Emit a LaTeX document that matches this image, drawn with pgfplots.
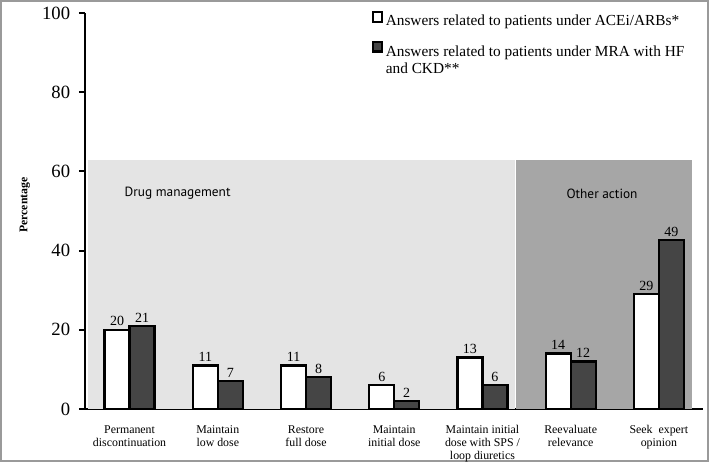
\documentclass[border=0pt]{standalone}
\usepackage{pgfplots}
\pgfplotsset{compat=1.18}
\usepackage{pgfplotstable}
\usepackage{fontspec}
\setmainfont{Liberation Serif}
\newfontfamily\sansf{PT Sans}
\definecolor{lightshade}{HTML}{E4E4E4}
\definecolor{darkshade}{HTML}{A6A6A6}
\definecolor{darkbar}{HTML}{454545}
\definecolor{framegray}{HTML}{9A9A9A}

\pgfplotstableread{
x w d wl dl
0 20 21 20 21
1 11 7 11 7
2 11 8 11 8
3 6 2 6 2
4 13 6 13 6
5 14 12 14 12
6 29 42.7 29 49
}\data

\begin{document}
\begin{tikzpicture}
\useasboundingbox (-64.1pt,-39.75pt) rectangle (467.6pt,306.75pt);
\draw[framegray, line width=1.2pt] (-63.5pt,-39.15pt) rectangle (467.0pt,306.15pt);
\begin{axis}[
  scale only axis,
  width=463.1pt, height=297pt,
  xmin=-0.5, xmax=6.5, ymin=0, ymax=100,
  axis lines=left,
  axis line style={-, line width=1.5pt, black},
  clip=false,
  ytick={0,20,40,60,80,100},
  /pgf/number format/assume math mode=true,
  yticklabel style={font=\fontsize{14}{16}\selectfont, xshift=-3pt},
  tick align=outside,
  major tick length=5pt,
  tick style={line width=1.5pt, black},
  xtick={0,1,2,3,4,5,6},
  xticklabels={{Permanent\\discontinuation},{Maintain\\low dose},{Restore\\full dose},{Maintain\\initial dose},{Maintain initial\\dose with SPS /\\loop diuretics},{Reevaluate\\relevance},{Seek\ \ expert\\opinion}},
  xticklabel style={align=center, font=\fontsize{8.9}{9.4}\selectfont, anchor=north, yshift=-4pt},
  x tick style={draw=none},
  extra x ticks={0.5,1.5,2.5,3.5,4.5,5.5},
  extra x tick labels={},
  extra x tick style={major tick length=3.5pt, tick style={line width=1.5pt, black, draw=black}},
  ylabel={\textbf{Percentage}},
  ylabel style={font=\fontsize{8.8}{10}\selectfont, at={(axis description cs:-0.098,0.515)}, anchor=center},
  legend style={draw=none, fill=none, at={(axis description cs:0.463,1.005)}, anchor=north west,
    font=\fontsize{11.5}{14}\selectfont, inner sep=0pt, row sep=8pt, cells={anchor=base west}},
  legend cell align=left,
]
\fill[lightshade] (axis cs:-0.47,0) rectangle (axis cs:4.37,63);
\fill[darkshade] (axis cs:4.38,0) rectangle (axis cs:6.37,63);
\node[anchor=west, font=\sansf\fontsize{10}{12}\selectfont] at (axis cs:-0.109,54.5) {Drug management};
\node[anchor=west, font=\sansf\fontsize{10}{12}\selectfont] at (axis cs:4.90,54.3) {Other action};

\addplot[ybar, bar width=0.283, bar shift=-0.1415, fill=white, draw=black, line width=1.7pt,
  nodes near coords, point meta=explicit symbolic,
  nodes near coords style={font=\fontsize{10.5}{12}\selectfont, black, inner sep=2pt, xshift=-9.36pt}, forget plot]
  table[x=x, y=w, meta=wl] {\data};
\addplot[ybar, bar width=0.283, bar shift=0.1415, fill=darkbar, draw=black, line width=1.7pt,
  nodes near coords, point meta=explicit symbolic,
  nodes near coords style={font=\fontsize{10.5}{12}\selectfont, black, inner sep=2pt, xshift=9.36pt}, forget plot]
  table[x=x, y=d, meta=dl] {\data};

\addlegendimage{legend image code/.code={\draw[fill=white, draw=black, line width=1.6pt] (0pt,-0.5pt) rectangle (7pt,6.5pt);}}
\addlegendentry{Answers related to patients under ACEi/ARBs*}
\addlegendimage{legend image code/.code={\draw[fill=darkbar, draw=black, line width=1.6pt] (0pt,-0.5pt) rectangle (7pt,6.5pt);}}
\addlegendentry{\begin{tabular}[t]{@{}l@{}}Answers related to patients under MRA with HF\\[-1.5pt]and CKD**\end{tabular}}
\end{axis}
\end{tikzpicture}
\end{document}
